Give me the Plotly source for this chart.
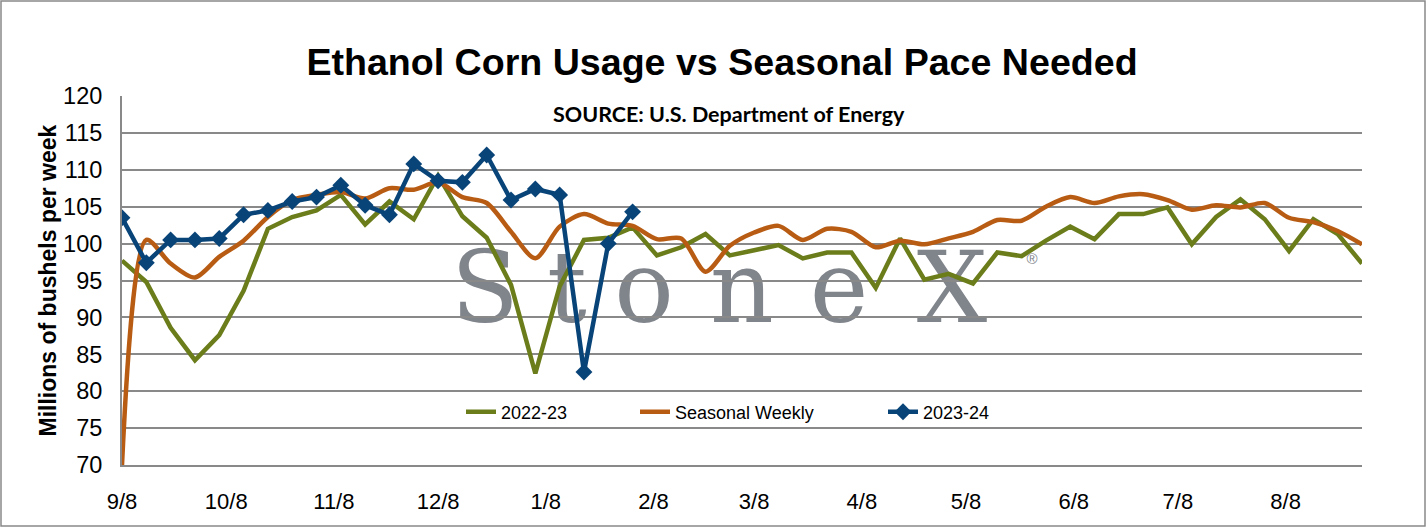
import plotly.graph_objects as go
import pandas as pd

# weekly dates (week ending Friday), Sep 2023 - Aug 2024
weeks = pd.date_range("2023-09-08", periods=52, freq="7D")

# 2022-23 weekly usage, million bushels
usage_2022_23 = [97.7, 94.8, 88.6, 84.2, 87.6, 93.6, 102.0, 103.6, 104.5, 106.6,
                 102.6, 105.7, 103.3, 109.2, 103.7, 100.8, 94.4, 82.4, 94.2, 100.5,
                 100.8, 102.2, 98.4, 99.5, 101.3, 98.4, 99.1, 99.8, 98.0, 98.8,
                 98.8, 94.0, 100.7, 95.1, 95.9, 94.6, 98.8, 98.3, 100.4, 102.3,
                 100.6, 104.0, 104.0, 104.9, 99.9, 103.6, 106.0, 103.3, 99.0, 103.3,
                 101.3, 97.3]

# seasonal pace needed
seasonal_weekly = [70.0, 100.5, 97.3, 95.4, 98.2, 100.4, 103.6, 105.9, 106.6, 107.0,
                   106.1, 107.5, 107.3, 108.3, 106.3, 105.5, 101.6, 98.0, 102.3, 104.0,
                   102.7, 102.4, 100.6, 100.7, 96.2, 99.7, 101.5, 102.4, 100.5, 102.0,
                   101.6, 99.5, 100.4, 99.9, 100.7, 101.6, 103.2, 103.1, 105.0, 106.3,
                   105.5, 106.4, 106.7, 105.9, 104.6, 105.2, 104.9, 105.5, 103.5, 102.9,
                   101.7, 99.9]

# 2023-24 so far
usage_2023_24 = [103.5, 97.4, 100.5, 100.5, 100.7, 103.9, 104.5, 105.7, 106.3, 107.9,
                 105.2, 103.9, 110.8, 108.5, 108.3, 112.0, 105.9, 107.4, 106.6, 82.6,
                 100.0, 104.3]

GREEN = "#6B7D1B"
ORANGE = "#B85C14"
BLUE = "#094478"
GRID = "#898989"
FONT = "Liberation Sans, Arial, sans-serif"

W, H = 1427, 528
L, R, T, B = 122, 65, 96, 63
pw, ph = W - L - R, H - T - B


def px(x):  # pixel -> paper x
    return (x - L) / pw


def py(y):  # pixel -> paper y
    return (H - B - y) / ph


fig = go.Figure()

fig.add_trace(go.Scatter(x=weeks, y=usage_2022_23, name="2022-23", mode="lines",
                         line=dict(color=GREEN, width=4.5), legend="legend"))
fig.add_trace(go.Scatter(x=weeks, y=seasonal_weekly, name="Seasonal Weekly", mode="lines",
                         line=dict(color=ORANGE, width=4.5, shape="spline", smoothing=0.8),
                         legend="legend2"))
fig.add_trace(go.Scatter(x=weeks[:len(usage_2023_24)], y=usage_2023_24, name="2023-24",
                         mode="lines+markers",
                         line=dict(color=BLUE, width=4.5),
                         marker=dict(symbol="diamond", size=13, color=BLUE),
                         legend="legend3"))

# StoneX watermark behind the grid
shapes = []
wm_letters = ["S", "t", "o", "n", "e", "X"]
wm_centers = [485, 567, 644, 742, 839, 952]
for ch, cx in zip(wm_letters, wm_centers):
    shapes.append(dict(type="rect", xref="paper", yref="paper",
                       x0=px(cx - 1), x1=px(cx + 1), y0=py(281), y1=py(279),
                       line=dict(width=0), fillcolor="rgba(0,0,0,0)", layer="below",
                       label=dict(text=ch, textposition="middle center",
                                  font=dict(family="DejaVu Serif, serif",
                                            size=99, color="#80848B"))))
shapes.append(dict(type="rect", xref="paper", yref="paper",
                   x0=px(1031), x1=px(1033), y0=py(258), y1=py(256),
                   line=dict(width=0), fillcolor="rgba(0,0,0,0)", layer="below",
                   label=dict(text="®", textposition="middle center",
                              font=dict(family="Liberation Sans, Arial", size=15, color="#80848B"))))
# chart border
shapes.append(dict(type="rect", xref="paper", yref="paper",
                   x0=px(1), x1=px(1425), y0=py(526), y1=py(1),
                   line=dict(color=GRID, width=1.5), layer="above"))

legend_style = dict(orientation="h", xanchor="left", yanchor="middle", y=py(412),
                    bgcolor="rgba(0,0,0,0)", font=dict(family=FONT, size=18, color="#000"))

fig.update_layout(
    width=W, height=H,
    margin=dict(l=L, r=R, t=T, b=B),
    paper_bgcolor="white", plot_bgcolor="white",
    title=dict(text="Ethanol Corn Usage vs Seasonal Pace Needed",
               x=722 / W, y=1 - 62 / H, xanchor="center", yanchor="middle",
               font=dict(family=FONT, size=37.6, color="#000", weight="bold")),
    showlegend=True,
    legend=dict(x=px(461), **legend_style),
    legend2=dict(x=px(635), **legend_style),
    legend3=dict(x=px(883), **legend_style),
    shapes=shapes,
    annotations=[
        dict(text="SOURCE: U.S. Department of Energy", xref="paper", yref="paper",
             x=px(729), y=py(114), showarrow=False, xanchor="center", yanchor="middle",
             font=dict(family="Lato, Open Sans, sans-serif", size=21.5, color="#000", weight="bold")),
        dict(text="Millions of bushels per week", xref="paper", yref="paper",
             x=px(47), y=0.5, showarrow=False, textangle=-90,
             xanchor="center", yanchor="middle",
             font=dict(family=FONT, size=23, color="#000", weight="bold")),
    ],
)

fig.update_xaxes(
    type="date", range=[weeks[0], weeks[-1]],
    tick0="2023-09-08", dtick="M1", tickformat="%-m/%-d",
    showgrid=False, showline=True, linecolor=GRID, linewidth=2,
    ticks="", ticklabelstandoff=16,
    tickfont=dict(family=FONT, size=22, color="#000"),
)
fig.update_yaxes(
    range=[70, 120], dtick=5,
    showgrid=True, gridcolor=GRID, gridwidth=2, zeroline=False,
    showline=True, linecolor=GRID, linewidth=2,
    ticks="", ticklabelstandoff=13,
    tickfont=dict(family=FONT, size=23.5, color="#000"),
)

# page body margin off so the figure sits at the window origin
fig.write_html("out.html", config={"displayModeBar": False},
               post_script="document.body.style.margin='0';")
